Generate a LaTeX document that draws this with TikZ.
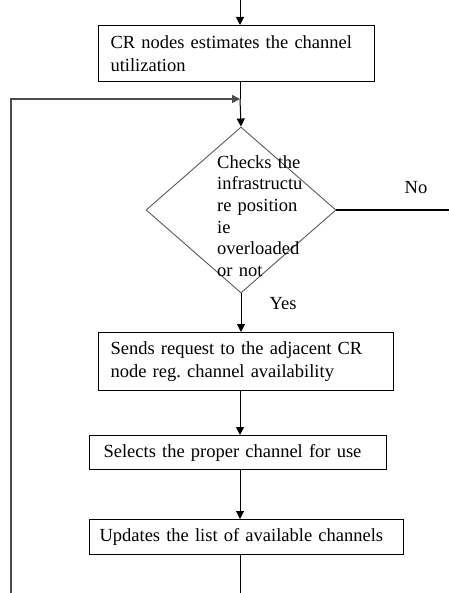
\documentclass[tikz,border=0pt]{standalone}
\usepackage{fontspec}
\setmainfont{Liberation Serif}
\usepackage{tikz}
\usetikzlibrary{arrows.meta,positioning,shapes.geometric}

\begin{document}
\frenchspacing
\begin{tikzpicture}[x=1pt, y=-1pt,
  every node/.style={font=\fontsize{18.5}{22.5}\selectfont},
  procbox/.style={draw, line width=1.1pt, anchor=north west, align=left,
                  inner xsep=12pt, inner ysep=0pt},
  decision/.style={diamond, draw=black!65, line width=0.9pt, inner sep=0pt,
                   minimum width=190pt, minimum height=166pt},
  arr/.style={-{Triangle[length=8pt, width=8pt]}, line width=1pt},
  plain/.style={line width=1pt},
]
\useasboundingbox (0,0) rectangle (449,593);

% Row 1: estimation
\coordinate (top) at (240,0);
\node[procbox, text width=252pt, minimum height=56pt] (estim) at (98,25)
  {CR nodes estimates the channel\\utilization};

% Row 2: decision
\coordinate (merge) at (240,99);
\node[decision] (check) at (241,210) {};
\node[align=left, text width=95pt, inner sep=0pt, anchor=west,
      font=\fontsize{18.5}{21.6}\selectfont] (checktxt) at (217,216)
  {Checks the\\infrastructu\\re position\\ie\\overloaded\\or not};
\coordinate (noend) at (449,210);
\node (no) at (416,188) {No};
\node (yes) at (283,304) {Yes};

% Row 3: request
\node[procbox, text width=271pt, minimum height=58pt] (request) at (98,332)
  {Sends request to the adjacent CR\\node reg. channel availability};

% Row 4: selection
\node[procbox, inner xsep=14pt, text width=269pt, minimum height=34pt] (select) at (89,435)
  {Selects the proper channel for use};

% Row 5: update
\node[procbox, inner xsep=10pt, text width=294pt, minimum height=35pt] (update) at (89,519)
  {Updates the list of available channels};
\coordinate (bottom) at (240,593);
\coordinate (loopbot) at (11,593);

% Arrows: main chain
\draw[arr] (top) -- (top |- estim.north);
\draw[plain] (estim.south -| merge) -- (merge);
\draw[arr] (merge) -- (check.north);
\draw[arr] (check.south) -- (check.south |- request.north);
\draw[arr] (request.south -| merge) -- (merge |- select.north);
\draw[arr] (select.south -| merge) -- (merge |- update.north);
\draw[plain] (update.south -| merge) -- (bottom);

% Arrows: branch and loop back
\draw[line width=2pt] (check.east) -- (noend);
\draw[-{Triangle[length=8pt, width=8pt]}, draw=black!70, line width=1.5pt]
  (loopbot) |- (merge);

\end{tikzpicture}
\end{document}
